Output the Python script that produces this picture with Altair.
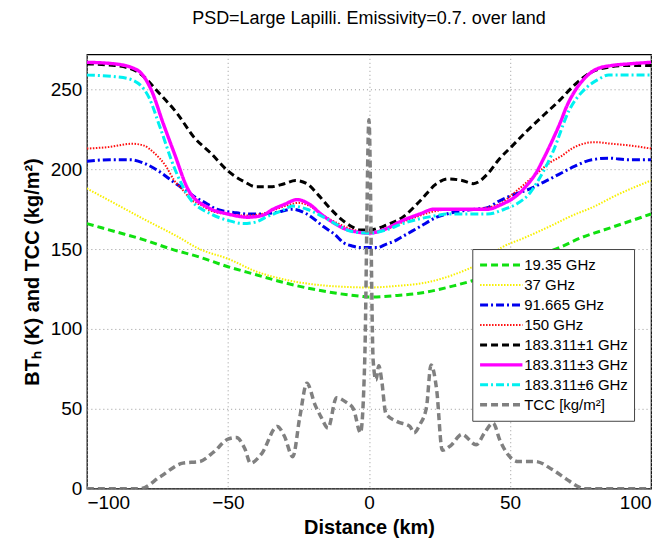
import altair as alt
import pandas as pd

series_names = ["19.35 GHz", "37 GHz", "91.665 GHz", "150 GHz",
                "183.311±1 GHz", "183.311±3 GHz", "183.311±6 GHz", "TCC [kg/m²]"]
colors = ["#10e010", "#f8f000", "#0000ee", "#ff1010", "#000000", "#ff00ff", "#00f0f0", "#808080"]
dashes = [[7, 4], [1.5, 1.5], [8, 3, 2, 3], [1.5, 1.5], [7, 4], [1, 0], [8, 3, 2, 3], [7, 4]]
widths = [3, 2, 3, 2, 3, 3.4, 3, 3.5]

x19 = [-100, -90, -80, -70, -60, -50, -40, -30, -20, -10, -3, 0, 10, 20, 30, 40, 50, 60, 67.5, 75, 85, 100]
y19 = [166, 161, 156, 150, 145, 139, 134, 129, 125, 122, 120.5, 120, 121, 123, 127, 132, 138, 146, 151, 157, 163, 172]

x37 = [-100, -90, -80, -68, -60, -50, -40, -30, -20, -10, 0, 10, 20, 30, 40, 47, 55, 65, 72, 79, 88, 100]
y37 = [188, 178.5, 169, 158, 150, 144, 136, 131, 128, 126.5, 126, 127, 129, 134, 142, 151, 157, 165, 171, 176, 184, 193]

x91 = [-100, -92, -84.5, -80, -76.5, -73, -70, -66, -62, -58, -54, -48, -43, -38.5, -33, -27, -22, -16,
       -12, -9, -6, -3, 0, 3, 6, 9, 12, 18, 24, 27.5, 33, 38, 42, 46, 51, 56, 62, 67.5, 73, 79, 85, 92, 100]
y91 = [205, 206, 206, 204, 201, 197, 193, 188, 183, 179, 175, 173, 172, 172, 173, 175, 172, 164,
       159, 154, 152, 151, 151, 151, 153, 155, 158, 164, 170, 172, 174, 175, 176, 180, 184, 187, 192, 197, 202, 206, 207, 206, 206]

x150 = [-100, -92, -84, -80, -76, -72, -69, -66, -63, -59, -56, -50, -44, -38, -33, -28, -25, -21, -17, -12,
        -7, -3, 0, 3, 7, 12, 18, 24, 30, 36, 42, 47, 52, 56, 60, 64, 68, 72, 76, 80, 86, 92, 100]
y150 = [213, 214, 216, 215, 210, 202, 193, 187, 181, 177, 174, 172, 171, 172, 175, 178, 179, 177, 172, 167,
        163, 161, 160, 161, 163, 167, 171, 174, 175, 175, 176, 179, 186, 192, 198, 204, 208, 213, 216, 217, 216, 215, 213]

x183_1 = [-100, -90, -82, -74, -68, -62, -56, -50, -44, -40, -35, -30, -26, -22, -18, -14, -10, -6, -3, 0,
          3, 6, 12, 18, 24, 28, 33, 37, 42, 46, 51, 56, 62, 67.5, 73, 79, 85, 92, 100]
y183_1 = [266, 265, 261, 247, 235, 220, 210, 199, 192, 189, 189, 191, 193, 191, 184, 176, 169, 164, 162, 162,
          163, 165, 170, 180, 191, 194, 193, 191, 197, 206, 215, 224, 234, 243, 253, 261, 264, 265, 265]

x183_3 = [-100, -90, -82, -77, -73, -69, -64, -57, -50, -43, -38, -34, -30, -25.5, -21, -17, -13, -9, -5, 0,
          5, 12, 18, 23, 27, 32, 37, 42, 47, 52, 56, 59, 62, 65, 68, 70, 73, 77, 81, 86, 92, 100]
y183_3 = [267, 266, 262, 249, 229, 210, 187, 176, 172, 170, 171, 175, 178, 181, 178, 172, 167, 163, 161, 160,
          162, 168, 172, 175, 175, 175, 175, 175, 178, 183, 190, 197, 207, 218, 230, 239, 249, 258, 263, 265, 266, 267]

x183_6 = [-100, -90, -84, -78, -74, -69, -64, -56, -50, -44.5, -40, -36.5, -31, -27, -22, -16, -11, -6, 0,
          6, 12, 18, 24, 27.5, 33, 38, 42, 48, 53, 57, 60, 65, 71, 77, 81, 85, 92, 100]
y183_6 = [259, 258, 256, 245, 226, 201, 183, 172, 168, 166, 167, 170, 174, 177, 175, 170, 165, 161, 160,
          162, 166, 169, 171, 172, 172, 172, 172, 175, 179, 185, 193, 210, 237, 251, 256, 259, 259, 259]

xtcc = [-100, -81, -74, -66, -60, -55, -50, -47, -44, -42, -38, -32.5, -30, -27, -24.5, -22, -19, -17, -14.5,
        -11.5, -8, -5.5, -3, -1.5, 0, 1.5, 2.5, 3.5, 4.5, 6, 10, 14.5, 16, 18, 20.4, 22, 24, 26, 29, 33, 38,
        41, 44, 46.5, 49, 53, 59, 65, 70, 74.5, 76, 100]
ytcc = [0, 0, 7.5, 16, 17, 23, 31, 32, 25, 16, 22, 39, 33, 20, 45, 66, 52, 45, 38,
        57, 54, 50, 35, 80, 231, 80, 68, 77, 68, 47, 42, 39, 35, 40, 51, 77.5, 62, 24, 27, 34, 27.5,
        35, 41, 30, 22, 17, 17, 12, 6, 1, 0, 0]

all_x = [x19, x37, x91, x150, x183_1, x183_3, x183_6, xtcc]
all_y = [y19, y37, y91, y150, y183_1, y183_3, y183_6, ytcc]

rows = []
for name, xs, ys in zip(series_names, all_x, all_y):
    for xv, yv in zip(xs, ys):
        rows.append({"series": name, "x": xv, "y": yv})
df = pd.DataFrame(rows)

FONT = "Liberation Sans"

leg = alt.Legend(
    title=None, orient="none", legendX=386, legendY=195,
    symbolType="stroke", symbolSize=1800, clipHeight=20, labelFontSize=15, labelFont=FONT,
    labelColor="black", fillColor="white", strokeColor="#444", padding=6,
    rowPadding=0, labelOffset=0, labelLimit=300,
)

chart = alt.Chart(df).mark_line(interpolate="monotone", clip=True).encode(
    x=alt.X("x:Q", scale=alt.Scale(domain=[-100, 100], nice=False),
            axis=alt.Axis(values=[-100, -50, 0, 50, 100], title="Distance (km)")),
    y=alt.Y("y:Q", scale=alt.Scale(domain=[0, 272], nice=False),
            axis=alt.Axis(values=[0, 50, 100, 150, 200, 250], title="BTₕ (K) and TCC (kg/m²)")),
    color=alt.Color("series:N", scale=alt.Scale(domain=series_names, range=colors), legend=leg),
    strokeDash=alt.StrokeDash("series:N", scale=alt.Scale(domain=series_names, range=dashes), legend=leg),
    strokeWidth=alt.StrokeWidth("series:N", scale=alt.Scale(type="ordinal", domain=series_names, range=widths), legend=leg),
).properties(
    width=565, height=435,
    title=alt.Title("PSD=Large Lapilli. Emissivity=0.7. over land", fontSize=18, font=FONT,
                    fontWeight="normal", anchor="middle", offset=26, color="black"),
    autosize=alt.AutoSizeParams(type="none"),
    padding={"left": 79, "top": 46, "right": 10, "bottom": 50},
).configure_view(
    stroke="black", strokeWidth=1.2
).configure_axis(
    grid=True, gridDash=[1, 3], gridColor="#999", gridWidth=1,
    domain=False, ticks=True, tickSize=0,
    labelFont=FONT, labelFontSize=19, labelColor="black", labelPadding=5,
    titleFont=FONT, titleFontSize=20, titleFontWeight="bold", titleColor="black",
).configure_axisY(titlePadding=8).configure_axisX(titlePadding=5)

chart.save("out.html", embed_options={"renderer": "svg", "actions": False})
